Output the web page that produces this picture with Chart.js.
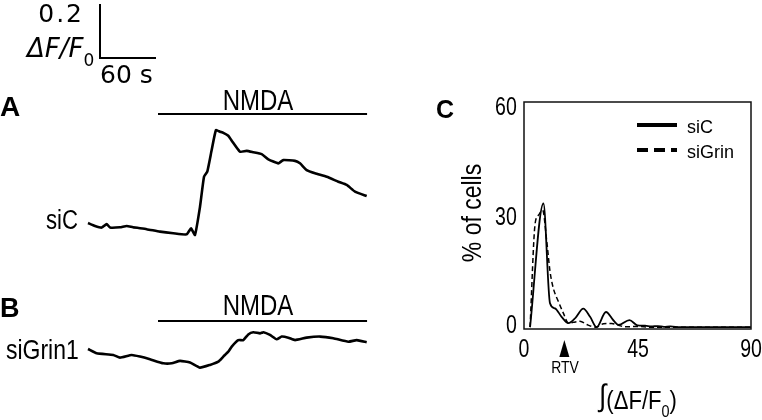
<!DOCTYPE html>
<html>
<head>
<meta charset="utf-8">
<script src="https://cdn.jsdelivr.net/npm/chart.js@4.4.1/dist/chart.umd.min.js"></script>
<style>
html, body { margin: 0; padding: 0; background: #fff; }
#wrap { position: relative; width: 762px; height: 420px; overflow: hidden; }
canvas { position: absolute; top: 0; }
#traces { left: 0; }
#hist { left: 420px; }
.t { position: absolute; white-space: nowrap; color: #000; }
.narrow, .reg { font-family: "Liberation Sans", Arial, sans-serif; }
.dv { font-family: "DejaVu Sans", sans-serif; }
.bold { font-family: "Liberation Sans", Arial, sans-serif; font-weight: bold; }
</style>
</head>
<body>
<div id="wrap">
  <canvas id="traces" width="420" height="420"></canvas>
  <canvas id="hist" width="342" height="420"></canvas>
</div>
<script>
// traces (time in s, dF/F0 relative to first point)
var timeA = [0, 7.5, 14.7, 20, 23.6, 34.3, 41.5, 48.2, 62.9, 77.1, 91.4, 105.7, 110.4, 114.6, 120, 124.3, 127.8, 132.5, 137.1, 141.4, 145, 150.3, 154, 162.9, 170, 177.1, 186.1, 193.2, 203.9, 209.2, 221.8, 227.1, 234.3, 243.2, 255.8, 268.2, 277.2, 286.1, 298.6];
var dfA = [0, -0.011, -0.017, -0.004, -0.017, -0.016, -0.011, -0.016, -0.023, -0.032, -0.038, -0.042, -0.020, -0.044, 0.060, 0.171, 0.190, 0.270, 0.344, 0.338, 0.334, 0.323, 0.305, 0.264, 0.267, 0.262, 0.255, 0.236, 0.221, 0.233, 0.230, 0.221, 0.196, 0.184, 0.171, 0.153, 0.141, 0.116, 0.100];
var timeB = [0, 9.3, 27.1, 34.3, 46.8, 55.7, 66.4, 80.7, 89.7, 98.6, 109.3, 120, 130.7, 139.6, 145, 150.3, 154, 161, 166.4, 171.7, 177.1, 184.3, 187.9, 195, 202.2, 207.5, 214.6, 221.8, 234.3, 248.6, 262.8, 278.9, 287.9, 298.6];
var dfB = [0, -0.016, -0.022, -0.032, -0.022, -0.028, -0.038, -0.053, -0.053, -0.044, -0.050, -0.069, -0.059, -0.047, -0.028, -0.010, 0.009, 0.033, 0.033, 0.054, 0.062, 0.058, 0.062, 0.052, 0.036, 0.046, 0.042, 0.033, 0.042, 0.046, 0.040, 0.027, 0.033, 0.025];
var nmdaWindow = [75, 299];
var scaleBarT = 60;
var scaleBarDF = 0.2;

// histogram C
var siCX = [2.4, 7.7, 10.3, 12.3, 14.9, 17.6, 20.5, 23.5, 26.2, 28.8, 32.5, 35.5, 37.5, 41.8, 45, 48, 50.5, 53, 55.5, 58, 62, 90];
var siCY = [0, 33.5, 6.5, 5.1, 2.8, 1.1, 2.6, 5.0, 2.8, 0, 4.1, 1.8, 0.6, 1.9, 0.5, 0.4, 0.2, 0.3, 0.1, 0.2, 0, 0];
var siGrinX = [2.4, 4.4, 5.7, 7.4, 9.0, 10.3, 11.6, 13.6, 15.6, 17.6, 19.5, 22.2, 24.9, 28.5, 31.5, 34.8, 37.5, 40, 45, 50, 90];
var siGrinY = [0, 28, 30.3, 31.7, 23.4, 15.2, 10.6, 7, 3.8, 1.1, 1.3, 1.6, 0.7, 0, 0.9, 1.0, 0.5, 0.1, 0.2, 0, 0];
var xTicks = [0, 45, 90];
var yTicks = [0, 30, 60];
var rtvValue = 16;

function pts(xs, ys) { return xs.map(function (x, i) { return {x: x, y: ys[i]}; }); }

// text labels, placed by baseline; narrow ones squeezed horizontally
function label(html, x, base, size, cls, align, squeeze) {
  var d = document.createElement('div');
  d.className = 't ' + cls;
  d.style.fontSize = size + 'px';
  d.style.lineHeight = size + 'px';
  d.style.top = (base - 0.846 * size) + 'px';
  d.innerHTML = html;
  var sx = squeeze ? ' scaleX(' + squeeze + ')' : '';
  if (align === 'right') { d.style.right = (762 - x) + 'px'; d.style.transformOrigin = 'right center'; d.style.transform = sx; }
  else if (align === 'center') { d.style.left = x + 'px'; d.style.transform = 'translateX(-50%)' + sx; }
  else { d.style.left = x + 'px'; d.style.transformOrigin = 'left center'; d.style.transform = sx; }
  document.getElementById('wrap').appendChild(d);
  return d;
}

// pixel layout of left panel: 56 px per 60 s, 54 px per 0.2 dF/F0
var pxPerS = 56 / 60, pxPerDF = 54 / 0.2;
var W = 420, H = 420;
var t0px = 88, baseA = 223, baseB = 349;

var tracesDecor = {
  id: 'tracesDecor',
  afterDatasetsDraw: function (chart) {
    var c = chart.ctx, x = chart.scales.x, yA = chart.scales.yA;
    c.save();
    c.strokeStyle = '#000';
    c.lineWidth = 2;
    var x1 = x.getPixelForValue(nmdaWindow[0]), x2 = x.getPixelForValue(nmdaWindow[1]);
    [114, 321].forEach(function (y) {
      c.beginPath(); c.moveTo(x1, y); c.lineTo(x2, y); c.stroke();
    });
    // scale bar
    var h = yA.getPixelForValue(0) - yA.getPixelForValue(scaleBarDF);
    var w = x.getPixelForValue(scaleBarT) - x.getPixelForValue(0);
    c.beginPath();
    c.moveTo(100, 58 - h); c.lineTo(100, 58); c.lineTo(100 + w, 58);
    c.stroke();
    c.restore();
  }
};

new Chart(document.getElementById('traces'), {
  type: 'line',
  data: {
    datasets: [{
      label: 'siC', data: pts(timeA, dfA), yAxisID: 'yA',
      borderColor: '#000', borderWidth: 2.6, pointRadius: 0, tension: 0.15, fill: false
    }, {
      label: 'siGrin1', data: pts(timeB, dfB), yAxisID: 'yB',
      borderColor: '#000', borderWidth: 2.6, pointRadius: 0, tension: 0.15, fill: false
    }]
  },
  options: {
    responsive: false, animation: false, clip: false,
    layout: { padding: 0 },
    plugins: { legend: { display: false }, tooltip: { enabled: false } },
    scales: {
      x: { type: 'linear', display: false, min: -t0px / pxPerS, max: (W - t0px) / pxPerS },
      yA: { type: 'linear', display: false, min: -(H - baseA) / pxPerDF, max: baseA / pxPerDF },
      yB: { type: 'linear', display: false, min: -(H - baseB) / pxPerDF, max: baseB / pxPerDF }
    }
  },
  plugins: [tracesDecor]
});

var histDecor = {
  id: 'histDecor',
  afterDatasetsDraw: function (chart) {
    var c = chart.ctx, a = chart.chartArea, x = chart.scales.x;
    c.save();
    c.strokeStyle = '#111';
    c.lineWidth = 1.5;
    c.strokeRect(a.left, a.top, a.right - a.left, a.bottom - a.top);
    // legend samples
    chart.data.datasets.forEach(function (ds, i) {
      var y = 125 + i * 25;
      c.strokeStyle = '#000';
      c.lineWidth = 4;
      c.setLineDash(ds.borderDash ? [11, 6] : []);
      c.beginPath(); c.moveTo(217, y); c.lineTo(257, y); c.stroke();
    });
    c.setLineDash([]);
    // RTV arrow
    var px = x.getPixelForValue(rtvValue);
    c.fillStyle = '#000';
    c.beginPath(); c.moveTo(px, 340); c.lineTo(px + 5, 357); c.lineTo(px - 5, 357); c.closePath(); c.fill();
    c.restore();
  }
};

var hist = new Chart(document.getElementById('hist'), {
  type: 'line',
  data: {
    datasets: [{
      label: 'siC', data: pts(siCX, siCY),
      borderColor: '#000', borderWidth: 1.8, pointRadius: 0, tension: 0.4, cubicInterpolationMode: 'monotone', fill: false
    }, {
      label: 'siGrin', data: pts(siGrinX, siGrinY), borderDash: [5, 3],
      borderColor: '#000', borderWidth: 1.5, pointRadius: 0, tension: 0.4, cubicInterpolationMode: 'monotone', fill: false
    }]
  },
  options: {
    responsive: false, animation: false,
    layout: { padding: { left: 0, top: 102, right: 11, bottom: 0 } },
    plugins: { legend: { display: false }, tooltip: { enabled: false } },
    scales: {
      x: {
        type: 'linear', min: 0, max: 90,
        afterBuildTicks: function (s) { s.ticks = xTicks.map(function (v) { return {value: v}; }); },
        afterFit: function (s) { s.height = 91; },
        ticks: { display: false },
        grid: { display: false, drawTicks: false }, border: { display: false }
      },
      y: {
        type: 'linear', min: -0.5, max: 61,
        afterBuildTicks: function (s) { s.ticks = yTicks.map(function (v) { return {value: v}; }); },
        afterFit: function (s) { s.width = 104; },
        ticks: { display: false },
        grid: { display: false, drawTicks: false }, border: { display: false }
      }
    }
  },
  plugins: [histDecor]
});

// tick labels from the chart's own scales
var off = 420;
xTicks.forEach(function (v) {
  label(String(v), off + hist.scales.x.getPixelForValue(v), 357, 25, 'narrow', 'center', 0.78);
});
yTicks.forEach(function (v) {
  var nudge = v === 0 ? -3 : 0;
  label(String(v), off + hist.chartArea.left - 7, hist.scales.y.getPixelForValue(v) + 9 + nudge, 25, 'narrow', 'right', 0.78);
});
var yt = label('% of cells', 0, 0, 28, 'narrow', 'left');
yt.style.left = '472px';
yt.style.top = '213px';
yt.style.transformOrigin = '0 0';
yt.style.transform = 'rotate(-90deg) scaleX(0.82) translate(-50%, -50%)';

label('<span style="letter-spacing:2px">0.</span>2', 82, 22, 25, 'dv', 'right');
label('<i>ΔF/F</i><span style="font-size:17px;position:relative;top:9px">0</span>', 27, 57, 26, 'dv', 'left');
label('60 s', 100, 83, 25, 'dv', 'left');
label('A', 0, 117, 28, 'bold', 'left');
label('B', 0, 318, 27, 'bold', 'left');
label('C', 436, 118, 25, 'bold', 'left');
label('NMDA', 258, 110, 30, 'narrow', 'center', 0.8);
label('NMDA', 258, 315, 30, 'narrow', 'center', 0.8);
label('siC', 78, 230, 27, 'narrow', 'right', 0.82);
label('siGrin1', 79, 360, 28, 'narrow', 'right', 0.82);
label('siC', 687, 133, 18, 'reg', 'left');
label('siGrin', 687, 158, 18, 'reg', 'left');
label('RTV', 565, 373, 17, 'narrow', 'center', 0.82);
label('<span style="font-size:31px;position:relative;top:-3px">∫</span>(ΔF/F<span style="font-size:17px;position:relative;top:8px">0</span>)', 638, 408, 26, 'narrow', 'center', 0.85);
</script>
</body>
</html>
